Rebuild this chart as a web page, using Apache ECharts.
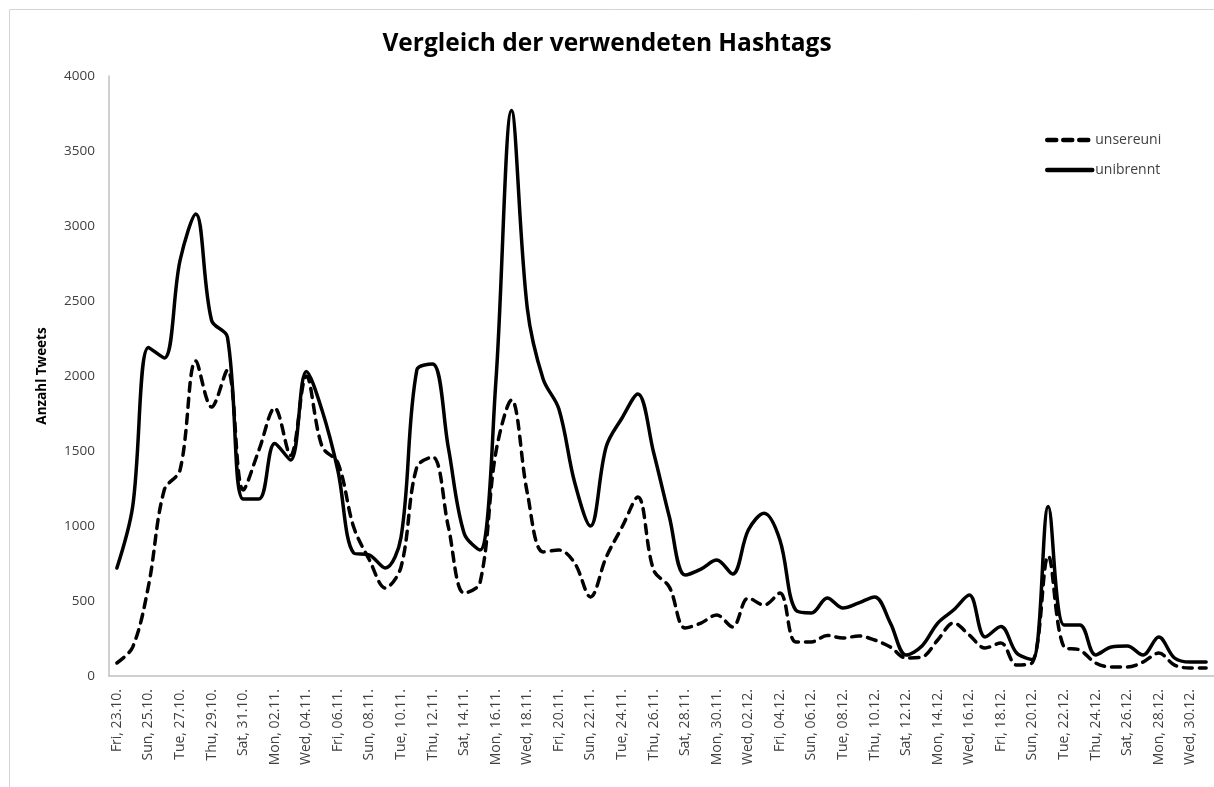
<!DOCTYPE html>
<html>
<head>
<meta charset="utf-8">
<script src="https://cdn.jsdelivr.net/npm/echarts@6/dist/echarts.min.js"></script>
<style>html,body{margin:0;padding:0;background:#fff}#c{width:1214px;height:787px}</style>
</head>
<body>
<div id="c"></div>
<script>
const categories = [
"Fri, 23.10.","Sat, 24.10.","Sun, 25.10.","Mon, 26.10.","Tue, 27.10.","Wed, 28.10.","Thu, 29.10.","Fri, 30.10.","Sat, 31.10.","Sun, 01.11.",
"Mon, 02.11.","Tue, 03.11.","Wed, 04.11.","Thu, 05.11.","Fri, 06.11.","Sat, 07.11.","Sun, 08.11.","Mon, 09.11.","Tue, 10.11.","Wed, 11.11.",
"Thu, 12.11.","Fri, 13.11.","Sat, 14.11.","Sun, 15.11.","Mon, 16.11.","Tue, 17.11.","Wed, 18.11.","Thu, 19.11.","Fri, 20.11.","Sat, 21.11.",
"Sun, 22.11.","Mon, 23.11.","Tue, 24.11.","Wed, 25.11.","Thu, 26.11.","Fri, 27.11.","Sat, 28.11.","Sun, 29.11.","Mon, 30.11.","Tue, 01.12.",
"Wed, 02.12.","Thu, 03.12.","Fri, 04.12.","Sat, 05.12.","Sun, 06.12.","Mon, 07.12.","Tue, 08.12.","Wed, 09.12.","Thu, 10.12.","Fri, 11.12.",
"Sat, 12.12.","Sun, 13.12.","Mon, 14.12.","Tue, 15.12.","Wed, 16.12.","Thu, 17.12.","Fri, 18.12.","Sat, 19.12.","Sun, 20.12.","Mon, 21.12.",
"Tue, 22.12.","Wed, 23.12.","Thu, 24.12.","Fri, 25.12.","Sat, 26.12.","Sun, 27.12.","Mon, 28.12.","Tue, 29.12.","Wed, 30.12.","Thu, 31.12."
];
const unsereuni = [
87,193,600,1240,1373,2100,1793,2040,1240,1507,
1787,1470,2000,1530,1420,993,773,587,727,1393,
1460,993,553,620,1487,1840,1220,827,840,753,
527,793,993,1193,707,593,320,353,407,327,
520,473,553,227,227,270,253,267,240,193,
120,127,240,353,273,187,220,73,90,800,
193,173,87,60,60,93,153,73,53,53
];
const unibrennt = [
720,1130,2190,2120,2770,3080,2370,2260,1180,1180,
1550,1440,2030,1770,1370,820,806,720,925,2040,
2080,1520,950,840,1950,3770,2450,1980,1780,1290,
1000,1530,1720,1880,1490,1060,673,713,773,680,
973,1085,907,440,420,520,453,487,527,353,
140,200,353,440,540,260,330,153,110,1130,
340,340,140,193,200,140,260,120,93,93
];
const yTicks = {min: 0, max: 4000, interval: 500};

const FONT = '"Open Sans", Lato, sans-serif';
const chart = echarts.init(document.getElementById('c'));
chart.setOption({
  backgroundColor: '#fff',
  animation: false,
  title: {
    text: 'Vergleich der verwendeten Hashtags',
    left: 'center', top: 27,
    textStyle: {fontFamily: FONT, fontSize: 24.5, fontWeight: 'bold', color: '#000'}
  },
  graphic: [{
    type: 'rect', left: 7, top: 7, z: -1,
    shape: {width: 1230, height: 800},
    style: {fill: 'none', stroke: '#d4d4d4', lineWidth: 1}
  }],
  legend: {
    orient: 'vertical', left: 1045, top: 133, padding: 0,
    itemWidth: 45, itemHeight: 14, itemGap: 16,
    itemStyle: {opacity: 0},
    lineStyle: {width: 4.5},
    textStyle: {fontFamily: FONT, fontSize: 14, color: '#404040', padding: [0, 0, 0, -2]},
    data: ['unsereuni', 'unibrennt']
  },
  grid: {left: 109, right: -5, top: 76, bottom: 111, containLabel: false},
  xAxis: {
    type: 'category', data: categories, boundaryGap: true,
    axisLine: {lineStyle: {color: '#c0c0c0', width: 1.5}},
    axisTick: {show: false},
    axisLabel: {interval: 1, rotate: 90, margin: 13, fontFamily: FONT, fontSize: 14, color: '#404040'},
    splitLine: {show: false}
  },
  yAxis: {
    type: 'value', min: yTicks.min, max: yTicks.max, interval: yTicks.interval,
    name: 'Anzahl Tweets', nameLocation: 'middle', nameGap: 60, nameRotate: 90,
    nameTextStyle: {fontFamily: FONT, fontSize: 13.5, fontWeight: 'bold', color: '#000'},
    axisLine: {show: true, lineStyle: {color: '#c0c0c0', width: 1.5}},
    axisTick: {show: false},
    axisLabel: {margin: 14, fontFamily: FONT, fontSize: 13.5, color: '#404040', formatter: function (v) { return String(v); }},
    splitLine: {show: false}
  },
  series: [
    {
      name: 'unsereuni', type: 'line', data: unsereuni, smooth: 0.35, symbol: 'none',
      lineStyle: {color: '#000', width: 3.5, type: [9, 7], cap: 'round'},
      itemStyle: {color: '#000'}
    },
    {
      name: 'unibrennt', type: 'line', data: unibrennt, smooth: 0.35, symbol: 'none',
      lineStyle: {color: '#000', width: 3.5, cap: 'round'},
      itemStyle: {color: '#000'}
    }
  ]
});
</script>
</body>
</html>
